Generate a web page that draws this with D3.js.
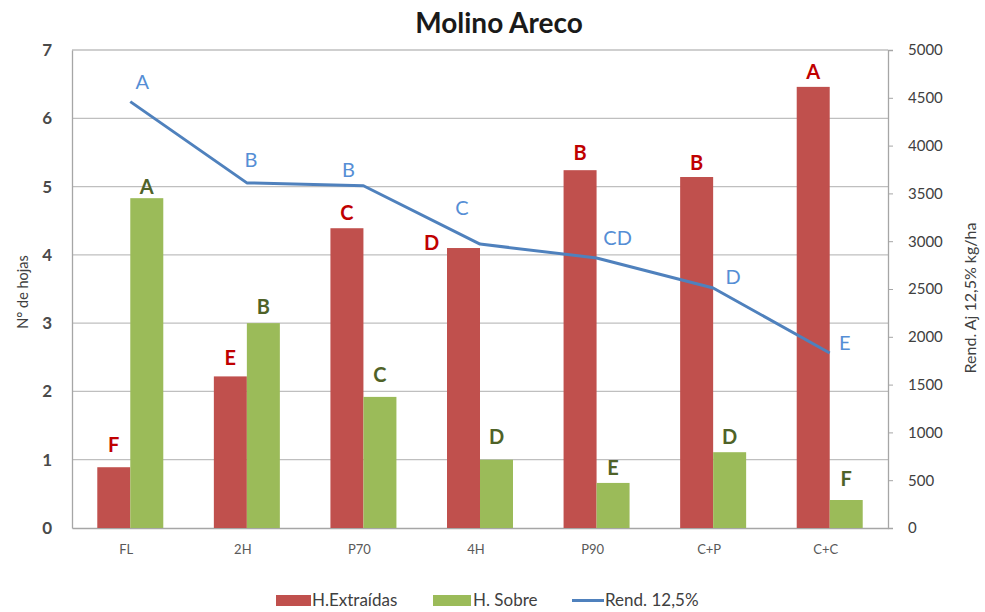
<!DOCTYPE html>
<html>
<head>
<meta charset="utf-8">
<script src="https://cdn.jsdelivr.net/npm/d3@7"></script>
<style>
  html, body { margin: 0; padding: 0; background: #ffffff; }
  svg { display: block; }
</style>
</head>
<body>
<svg id="chart" width="985" height="612"></svg>
<script>
// ---- data ----
const categories = ["FL", "2H", "P70", "4H", "P90", "C+P", "C+C"];
const hExtraidas = [0.89, 2.22, 4.39, 4.10, 5.24, 5.14, 6.46];
const hSobre = [4.83, 3.00, 1.92, 1.00, 0.66, 1.11, 0.41];
const rend = [4460, 3610, 3580, 2970, 2825, 2510, 1830];
const lettersExtraidas = ["F", "E", "C", "D", "B", "B", "A"];
const lettersSobre = ["A", "B", "C", "D", "E", "D", "F"];
const lettersRend = ["A", "B", "B", "C", "CD", "D", "E"];
const leftTicks = [0, 1, 2, 3, 4, 5, 6, 7];
const rightTicks = [0, 500, 1000, 1500, 2000, 2500, 3000, 3500, 4000, 4500, 5000];
const seriesNames = ["H.Extraídas", "H. Sobre", "Rend. 12,5%"];

// ---- annotation placement (layout only: label centre offsets in px) ----
const offExtraidas = [[0,-22],[0,-18],[0,-15],[-32,-5],[0,-17],[0,-14],[0,-15]];
const offSobre = [[0,-11],[0,-16],[0,-22],[0,-23],[0,-15],[0,-15],[0,-21]];
const offRend = [[12,-20],[4,-23],[-15,-16],[-18,-36],[21,-20],[20,-11],[15,-10]];

const colRed = "#c0504d", colGreen = "#9bbb59", colBlue = "#4f81bd";
const txtRed = "#c00000", txtGreen = "#4f6228", txtBlue = "#558ed5";
const font = "Lato, 'Open Sans', sans-serif";

const svg = d3.select("#chart");
const L = 72, R = 888, T = 50, B = 528;

const x = d3.scaleBand().domain(categories).range([L, R]).padding(0);
const yL = d3.scaleLinear().domain([0, 7]).range([B, T]);
const yR = d3.scaleLinear().domain([0, 5000]).range([B, T]);
const barW = 33;

// gridlines
svg.append("g").selectAll("line").data(leftTicks.filter(d => d > 0)).join("line")
  .attr("x1", L).attr("x2", R)
  .attr("y1", d => yL(d)).attr("y2", d => yL(d))
  .attr("stroke", "#bfbfbf").attr("stroke-width", 1.3);

// left axis
const gL = svg.append("g").attr("transform", `translate(${L},0)`)
  .call(d3.axisLeft(yL).tickValues(leftTicks).tickSize(0).tickPadding(20).tickFormat(d3.format("d")));
gL.select(".domain").attr("stroke", "#a6a6a6").attr("stroke-width", 1.3);
gL.selectAll("text").attr("font-family", font).attr("font-size", 17).attr("font-weight", "bold").attr("fill", "#4a4a4a");

// right axis
const gR = svg.append("g").attr("transform", `translate(${R},0)`)
  .call(d3.axisRight(yR).tickValues(rightTicks).tickSize(5).tickPadding(15).tickFormat(d3.format("d")));
gR.select(".domain").attr("stroke", "#a6a6a6").attr("stroke-width", 1.3);
gR.selectAll(".tick line").attr("stroke", "#a6a6a6");
gR.selectAll("text").attr("font-family", font).attr("font-size", 15).attr("fill", "#404040");

// bottom axis
const gB = svg.append("g").attr("transform", `translate(0,${B})`)
  .call(d3.axisBottom(x).tickSize(0).tickPadding(17));
gB.select(".domain").attr("stroke", "#a6a6a6").attr("stroke-width", 1.3);
gB.selectAll("text").attr("font-family", font).attr("font-size", 13).attr("fill", "#595959")
  .attr("dx", -4);

// bars
const cx = c => x(c) + x.bandwidth() / 2;
svg.append("g").selectAll("rect").data(categories).join("rect")
  .attr("x", c => cx(c) - barW).attr("width", barW)
  .attr("y", (c, i) => yL(hExtraidas[i])).attr("height", (c, i) => yL(0) - yL(hExtraidas[i]))
  .attr("fill", colRed);
svg.append("g").selectAll("rect").data(categories).join("rect")
  .attr("x", c => cx(c)).attr("width", barW)
  .attr("y", (c, i) => yL(hSobre[i])).attr("height", (c, i) => yL(0) - yL(hSobre[i]))
  .attr("fill", colGreen);

// line
const line = d3.line().x((d, i) => cx(categories[i])).y(d => yR(d));
svg.append("path").datum(rend).attr("d", line)
  .attr("fill", "none").attr("stroke", colBlue).attr("stroke-width", 3).attr("stroke-linejoin", "round");

// letters
function letters(arr, xs, ys, offs, color, weight) {
  svg.append("g").selectAll("text").data(arr).join("text")
    .attr("x", (d, i) => xs(i) + offs[i][0])
    .attr("y", (d, i) => ys(i) + offs[i][1])
    .attr("dy", "0.35em")
    .attr("text-anchor", "middle")
    .attr("font-family", font).attr("font-size", 20).attr("font-weight", weight)
    .attr("fill", color).text(d => d);
}
letters(lettersExtraidas, i => cx(categories[i]) - barW / 2, i => yL(hExtraidas[i]), offExtraidas, txtRed, "bold");
letters(lettersSobre, i => cx(categories[i]) + barW / 2, i => yL(hSobre[i]), offSobre, txtGreen, "bold");
letters(lettersRend, i => cx(categories[i]), i => yR(rend[i]), offRend, txtBlue, "normal");

// title
svg.append("text").attr("x", 499).attr("y", 33).attr("text-anchor", "middle")
  .attr("font-family", font).attr("font-size", 28).attr("font-weight", "bold").attr("fill", "#1a1a1a")
  .text("Molino Areco");

// axis titles
svg.append("text").attr("transform", `translate(23,292) rotate(-90)`)
  .attr("text-anchor", "middle").attr("dy", "0.35em").attr("font-family", font).attr("font-size", 14.5).attr("fill", "#404040")
  .text("N° de hojas");
svg.append("text").attr("transform", `translate(970,298) rotate(-90)`)
  .attr("text-anchor", "middle").attr("dy", "0.35em").attr("font-family", font).attr("font-size", 16).attr("fill", "#404040")
  .text("Rend. Aj 12,5% kg/ha");

// legend
const lg = svg.append("g").attr("font-family", font).attr("font-size", 17).attr("fill", "#404040");
const legendX = [276, 433, 572];
lg.append("rect").attr("x", legendX[0]).attr("y", 595).attr("width", 35).attr("height", 11).attr("fill", colRed);
lg.append("rect").attr("x", legendX[1]).attr("y", 595).attr("width", 38).attr("height", 11).attr("fill", colGreen);
lg.append("line").attr("x1", legendX[2]).attr("x2", legendX[2] + 32).attr("y1", 600.5).attr("y2", 600.5)
  .attr("stroke", colBlue).attr("stroke-width", 3);
const textX = [legendX[0] + 36, legendX[1] + 40, legendX[2] + 33];
seriesNames.forEach((s, i) => {
  lg.append("text").attr("x", textX[i]).attr("y", 600.5).attr("dy", "0.35em").text(s);
});
</script>
</body>
</html>
